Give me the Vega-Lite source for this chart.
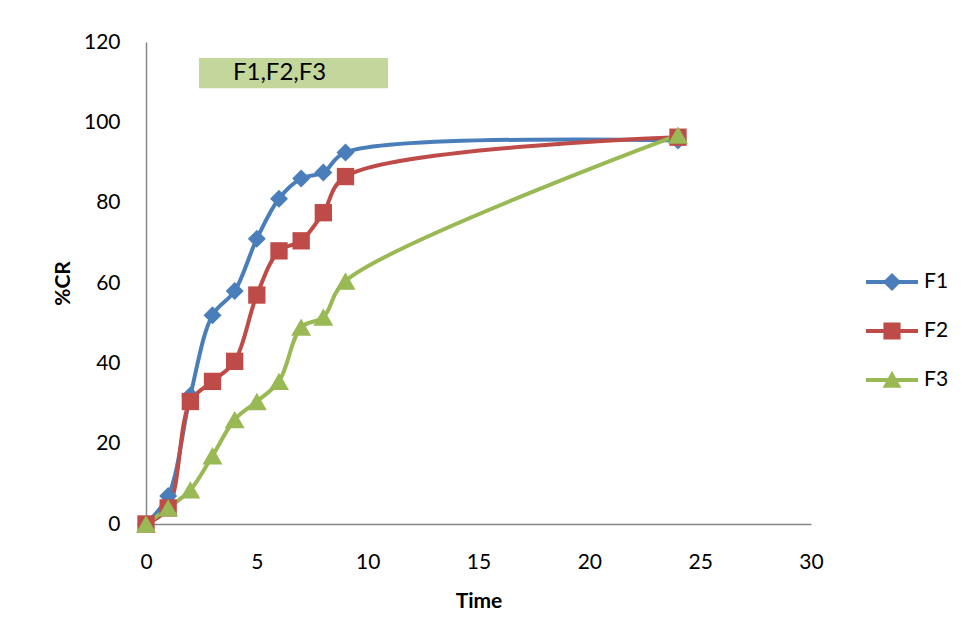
{
  "$schema": "https://vega.github.io/schema/vega-lite/v6.json",
  "width": 665,
  "height": 482,
  "autosize": {"type": "none"},
  "padding": {"left": 146, "top": 42, "right": 153, "bottom": 116},
  "background": "white",
  "config": {
    "view": {"stroke": null},
    "font": "Lato",
    "axis": {
      "domainColor": "#868686",
      "domainWidth": 1.5,
      "ticks": false,
      "grid": false,
      "labelFlush": false,
      "labelFont": "Lato",
      "labelFontSize": 21,
      "labelColor": "#000000",
      "titleFont": "Lato",
      "titleFontSize": 21,
      "titleFontWeight": "bold",
      "titleColor": "#000000"
    }
  },
  "datasets": {
    "release": [
      {"time": 0, "series": "F1", "cr": 0},
      {"time": 1, "series": "F1", "cr": 7},
      {"time": 2, "series": "F1", "cr": 32},
      {"time": 3, "series": "F1", "cr": 52},
      {"time": 4, "series": "F1", "cr": 58},
      {"time": 5, "series": "F1", "cr": 71},
      {"time": 6, "series": "F1", "cr": 81},
      {"time": 7, "series": "F1", "cr": 86},
      {"time": 8, "series": "F1", "cr": 87.5},
      {"time": 9, "series": "F1", "cr": 92.5},
      {"time": 24, "series": "F1", "cr": 95.5},
      {"time": 0, "series": "F2", "cr": 0},
      {"time": 1, "series": "F2", "cr": 4},
      {"time": 2, "series": "F2", "cr": 30.5},
      {"time": 3, "series": "F2", "cr": 35.5},
      {"time": 4, "series": "F2", "cr": 40.5},
      {"time": 5, "series": "F2", "cr": 57},
      {"time": 6, "series": "F2", "cr": 68},
      {"time": 7, "series": "F2", "cr": 70.5},
      {"time": 8, "series": "F2", "cr": 77.5},
      {"time": 9, "series": "F2", "cr": 86.5},
      {"time": 24, "series": "F2", "cr": 96.3},
      {"time": 0, "series": "F3", "cr": 0},
      {"time": 1, "series": "F3", "cr": 4},
      {"time": 2, "series": "F3", "cr": 8.5},
      {"time": 3, "series": "F3", "cr": 17},
      {"time": 4, "series": "F3", "cr": 26},
      {"time": 5, "series": "F3", "cr": 30.5},
      {"time": 6, "series": "F3", "cr": 35.5},
      {"time": 7, "series": "F3", "cr": 49},
      {"time": 8, "series": "F3", "cr": 51.5},
      {"time": 9, "series": "F3", "cr": 60.5},
      {"time": 24, "series": "F3", "cr": 96.8}
    ],
    "label": [{"label": "F1,F2,F3"}]
  },
  "layer": [
    {
      "data": {"name": "release"},
      "encoding": {
        "x": {
          "field": "time",
          "type": "quantitative",
          "title": "Time",
          "scale": {"domain": [0, 30], "nice": false, "zero": false},
          "axis": {"values": [0, 5, 10, 15, 20, 25, 30], "labelPadding": 27, "titlePadding": 18}
        },
        "y": {
          "field": "cr",
          "type": "quantitative",
          "title": "%CR",
          "scale": {"domain": [0, 120], "nice": false},
          "axis": {"values": [0, 20, 40, 60, 80, 100, 120], "labelPadding": 26, "titlePadding": 10}
        }
      },
      "layer": [
        {
          "mark": {"type": "line", "interpolate": "catmull-rom", "strokeWidth": 4},
          "encoding": {
            "stroke": {
              "field": "series",
              "type": "nominal",
              "scale": {"range": ["#4A7EBB", "#BE4B48", "#98B954"]},
              "legend": null
            }
          }
        },
        {
          "transform": [{"filter": "datum.series === 'F1'"}],
          "mark": {"type": "point", "shape": "diamond", "filled": true, "opacity": 1, "size": 324},
          "encoding": {
            "fill": {
              "field": "series",
              "type": "nominal",
              "scale": {"range": ["#4A7EBB", "#BE4B48", "#98B954"]},
              "legend": null
            }
          }
        },
        {
          "transform": [{"filter": "datum.series === 'F2'"}],
          "mark": {"type": "point", "shape": "square", "filled": true, "opacity": 1, "size": 300},
          "encoding": {"fill": {"field": "series", "type": "nominal", "legend": null}}
        },
        {
          "transform": [{"filter": "datum.series === 'F3'"}],
          "mark": {"type": "point", "shape": "triangle-up", "filled": true, "opacity": 1, "size": 400},
          "encoding": {"fill": {"field": "series", "type": "nominal", "legend": null}}
        },
        {
          "mark": {"type": "point", "filled": true, "opacity": 0, "size": 2704},
          "encoding": {
            "color": {
              "field": "series",
              "type": "nominal",
              "scale": {"domain": ["F1", "F2", "F3"], "range": ["#4A7EBB", "#BE4B48", "#98B954"]},
              "legend": {
                "title": null,
                "orient": "none",
                "legendX": 720,
                "legendY": 214,
                "padding": 0,
                "symbolSize": 2704,
                "symbolOpacity": 1,
                "symbolStrokeWidth": 0,
                "labelFont": "Lato",
                "labelFontSize": 21,
                "labelColor": "#000000",
                "labelOffset": 6,
                "rowPadding": 13,
                "encode": {"symbols": {"update": {"opacity": {"value": 1}, "fillOpacity": {"value": 1}}}}
              }
            },
            "shape": {
              "field": "series",
              "type": "nominal",
              "scale": {
                "domain": ["F1", "F2", "F3"],
                "range": [
                  "M-1,-0.08H1V0.08H-1Z M-0.35,0L0,-0.35L0.35,0L0,0.35Z",
                  "M-1,-0.08H1V0.08H-1Z M-0.33,-0.33H0.33V0.33H-0.33Z",
                  "M-1,-0.08H1V0.08H-1Z M0,-0.36L0.36,0.3H-0.36Z"
                ]
              },
              "legend": {
                "title": null,
                "orient": "none",
                "legendX": 720,
                "legendY": 214,
                "padding": 0,
                "symbolSize": 2704,
                "symbolOpacity": 1,
                "symbolStrokeWidth": 0,
                "labelFont": "Lato",
                "labelFontSize": 21,
                "labelColor": "#000000",
                "labelOffset": 6,
                "rowPadding": 13,
                "encode": {"symbols": {"update": {"opacity": {"value": 1}, "fillOpacity": {"value": 1}}}}
              }
            }
          }
        }
      ]
    },
    {
      "data": {"name": "label"},
      "mark": {"type": "rect", "color": "#C3D69B"},
      "encoding": {
        "x": {"datum": 2.39, "type": "quantitative", "title": "Time"},
        "x2": {"datum": 10.92},
        "y": {"datum": 108.5, "type": "quantitative", "title": "%CR"},
        "y2": {"datum": 116}
      }
    },
    {
      "data": {"name": "label"},
      "mark": {"type": "text", "align": "left", "baseline": "middle", "font": "Lato", "fontSize": 24, "color": "#000000"},
      "encoding": {
        "x": {"datum": 3.92, "type": "quantitative", "title": "Time"},
        "y": {"datum": 112.3, "type": "quantitative", "title": "%CR"},
        "text": {"field": "label"}
      }
    }
  ]
}
